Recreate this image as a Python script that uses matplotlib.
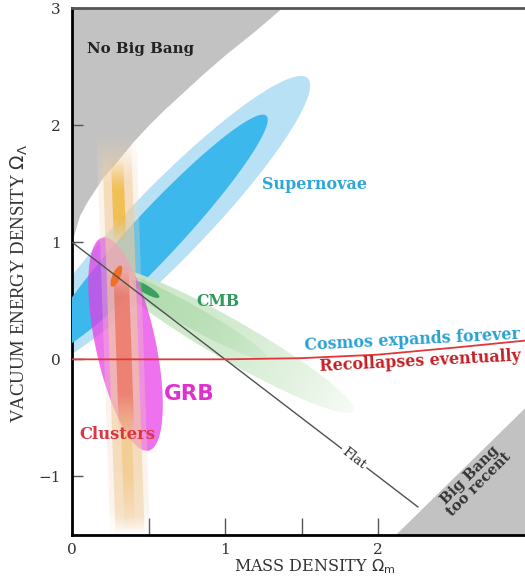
import numpy as np
import matplotlib
matplotlib.use("Agg")
import matplotlib.pyplot as plt
from matplotlib.patches import Polygon
from matplotlib.colors import to_rgb

# ---- values (Omega_m, Omega_Lambda) ----
no_bang_m = [0.0, 0.02, 0.05, 0.1, 0.2, 0.3, 0.4, 0.5, 0.6, 0.7, 0.85, 1.0, 1.2, 1.37]
no_bang_l = [1.0, 1.10, 1.23, 1.35, 1.55, 1.70, 1.86, 2.0, 2.13, 2.25, 2.43, 2.6, 2.81, 3.0]

too_recent_m = [2.11, 2.96]
too_recent_l = [-1.5, -0.41]

recollapse_m = [0.0, 1.0, 1.5, 2.0, 2.5, 2.96]
recollapse_l = [0.0, 0.0, 0.01, 0.04, 0.10, 0.16]

flat_m = [0.0, 2.26]
flat_l = [1.0, -1.26]

# confidence regions: centre, tip of long axis, half width (px)
sn_outer = dict(c=(0.62, 1.16), tip=(1.54, 2.40), hw=37)
sn_inner = dict(c=(0.55, 1.07), tip=(1.27, 2.08), hw=24)
cmb_outer = dict(c=(1.04, 0.16), tip=(1.84, -0.44), hw=20)
cmb_mid = dict(c=(0.76, 0.38), tip=(1.28, 0.0), hw=11)
cmb_core = dict(c=(0.48, 0.60), tip=(0.57, 0.53), hw=4)
grb = dict(c=(0.35, 0.13), tip=(0.20, 1.04), hw=30)
combined = dict(c=(0.29, 0.71), tip=(0.32, 0.80), hw=4)

# opacity of the CMB band along its long axis (-1 = upper-left tip)
cmb_s = [-1.0, 0.0, 0.6, 1.0]
cmb_a = [0.95, 0.8, 0.45, 0.15]

# cluster band: centre line, and opacity along Omega_Lambda
clusters_top = (0.29, 1.90)
clusters_bot = (0.38, -1.5)
cl_halo_y = [-1.5, -1.3, 1.6, 1.95]
cl_halo_a = [0.0, 0.3, 0.3, 0.0]
cl_pale_y = [-1.5, -1.35, -0.9, 1.5, 1.88]
cl_pale_a = [0.0, 0.45, 0.6, 0.6, 0.0]
cl_core_y = [1.0, 1.2, 1.45, 1.7]
cl_core_a = [0.0, 0.7, 0.7, 0.0]
cl_red_y = [-0.6, -0.3, 0.55, 0.8]
cl_red_a = [0.0, 0.5, 0.5, 0.0]
cl_low_y = [-1.45, -1.0, -0.5, -0.3]
cl_low_a = [0.0, 0.35, 0.35, 0.0]

XMAX = 2.96
YMIN, YMAX = -1.5, 3.0

fig = plt.figure(figsize=(5.25, 5.76), dpi=100)
ax = fig.add_axes([72 / 525, 1 - 535 / 576, 1 - 72 / 525, 527 / 576])

sx = 453 / XMAX           # px per unit of Omega_m
sy = 527 / (YMAX - YMIN)  # px per unit of Omega_Lambda


def ellipse_axes(e):
    c = np.array(e["c"])
    a = np.array(e["tip"]) - c
    apx = np.array([a[0] * sx, a[1] * sy])
    perp = np.array([-apx[1], apx[0]]) / np.hypot(*apx) * e["hw"]
    b = np.array([perp[0] / sx, perp[1] / sy])
    return c, a, b


def ellipse(ax, e, **kw):
    c, a, b = ellipse_axes(e)
    t = np.linspace(0, 2 * np.pi, 200)
    pts = c + np.outer(np.cos(t), a) + np.outer(np.sin(t), b)
    ax.add_patch(Polygon(pts, closed=True, lw=0, **kw))


def ellipse_fade(ax, e, color, s_stops, a_stops, z):
    c, a, b = ellipse_axes(e)
    t = np.linspace(0, 2 * np.pi, 200)
    pts = c + np.outer(np.cos(t), a) + np.outer(np.sin(t), b)
    poly = Polygon(pts, transform=ax.transData)
    x0, y0 = pts.min(axis=0)
    x1, y1 = pts.max(axis=0)
    gx, gy = np.meshgrid(np.linspace(x0, x1, 300), np.linspace(y1, y0, 300))
    # coordinate along the long axis, solved from the conjugate basis
    m = np.array([a, b]).T
    inv = np.linalg.inv(m)
    s = inv[0, 0] * (gx - c[0]) + inv[0, 1] * (gy - c[1])
    img = np.zeros((300, 300, 4))
    img[..., :3] = to_rgb(color)
    img[..., 3] = np.interp(s, s_stops, a_stops)
    im = ax.imshow(img, extent=[x0, x1, y0, y1], aspect="auto", origin="upper",
                   interpolation="bilinear", zorder=z)
    im.set_clip_path(poly)


def cluster_band(ax, stops_y, stops_a, hw, color, z):
    (xt, yt), (xb, yb) = clusters_top, clusters_bot
    y0, y1 = stops_y[0], stops_y[-1]
    xc = lambda y: xt + (y - yt) * (xb - xt) / (yb - yt)
    poly = Polygon([(xc(y1) - hw, y1), (xc(y1) + hw, y1),
                    (xc(y0) + hw, y0), (xc(y0) - hw, y0)],
                   transform=ax.transData)
    ys = np.linspace(y1, y0, 300)
    img = np.zeros((300, 1, 4))
    img[:, 0, :3] = to_rgb(color)
    img[:, 0, 3] = np.interp(ys, stops_y, stops_a)
    x0 = min(xc(y0), xc(y1)) - hw
    x1 = max(xc(y0), xc(y1)) + hw
    im = ax.imshow(img, extent=[x0, x1, y0, y1], aspect="auto",
                   origin="upper", interpolation="bilinear", zorder=z)
    im.set_clip_path(poly)


# gray excluded regions
ax.fill_between(no_bang_m, no_bang_l, YMAX, color="#c2c2c2", lw=0, zorder=1)
ax.fill_between(too_recent_m, YMIN, too_recent_l, color="#c2c2c2", lw=0, zorder=1)

# supernovae
ellipse(ax, sn_outer, color="#b8e1f5", zorder=2)
ellipse(ax, sn_inner, color="#3db8ec", zorder=3)

# CMB
ellipse_fade(ax, cmb_outer, "#c8e6c4", cmb_s, cmb_a, 3)
ellipse_fade(ax, cmb_mid, "#a8d8a6", [-1, 0, 1], [0.8, 0.6, 0.2], 3)
ellipse(ax, cmb_core, color="#3aa060", zorder=3)

# GRB
ellipse(ax, grb, color="#e83ae6", alpha=0.72, zorder=4)

# clusters
cluster_band(ax, cl_halo_y, cl_halo_a, 0.13, "#f4dcc0", 5)
cluster_band(ax, cl_pale_y, cl_pale_a, 0.095, "#f2cc9c", 5)
cluster_band(ax, cl_core_y, cl_core_a, 0.04, "#f0b428", 5)
cluster_band(ax, cl_red_y, cl_red_a, 0.05, "#ea5232", 5)
cluster_band(ax, cl_low_y, cl_low_a, 0.035, "#f0b450", 5)

ellipse(ax, combined, color="#f07028", zorder=6)

# flat universe line and recollapse boundary
ax.plot(flat_m, flat_l, color="#505050", lw=1.0, zorder=6)
ax.plot(recollapse_m, recollapse_l, color="#e0383a", lw=1.3, zorder=7)

ax.set_xlim(0, XMAX)
ax.set_ylim(YMIN, YMAX)

serif = "DejaVu Serif"
ax.text(0.10, 2.65, "No Big Bang", family=serif, weight="bold", fontsize=10.8,
        color="#222222", va="center", zorder=8)
ax.text(1.24, 1.49, "Supernovae", family=serif, weight="bold", fontsize=11.5,
        color="#2ea6da", va="center", zorder=8)
ax.text(0.81, 0.49, "CMB", family=serif, weight="bold", fontsize=11.3,
        color="#2f9a5e", va="center", zorder=8)
ax.text(1.52, 0.12, "Cosmos expands forever", family=serif, weight="bold",
        fontsize=11.4, color="#2aa0d4", va="center", ha="left", rotation=3,
        rotation_mode="anchor", zorder=8)
ax.text(1.62, -0.06, "Recollapses eventually", family=serif, weight="bold",
        fontsize=11.4, color="#c42026", va="center", ha="left", rotation=3,
        rotation_mode="anchor", zorder=8)
ax.text(0.60, -0.30, "GRB", family="DejaVu Sans", weight="bold", fontsize=15.5,
        color="#e030d0", va="center", zorder=8)
ax.text(0.05, -0.64, "Clusters", family=serif, weight="bold", fontsize=11.8,
        color="#dc3545", va="center", zorder=8)
ax.text(1.84, -0.85, "Flat", family=serif, fontsize=9.5, color="#333333",
        rotation=-38, ha="center", va="center", zorder=8,
        bbox=dict(facecolor="white", edgecolor="none", pad=1.5))
ax.text(2.63, -1.03, "Big Bang\ntoo recent", family=serif, weight="bold",
        fontsize=10.5, color="#333333", rotation=45, ha="center", va="center",
        linespacing=0.95, zorder=8)

# axes styling
ax.set_xticks([0, 1, 2])
ax.set_xticks([0.5, 1.5], minor=True)
ax.set_yticks([-1, 0, 1, 2, 3])
ax.tick_params(axis="x", which="both", direction="in", length=12, width=1,
               color="#555555", pad=6, labelsize=11, labelcolor="#333333")
ax.tick_params(axis="y", direction="in", length=8, width=1, color="#555555",
               pad=8, labelsize=11, labelcolor="#333333")
for lab in ax.get_xticklabels() + ax.get_yticklabels():
    lab.set_family(serif)
ax.spines["right"].set_visible(False)
ax.spines["left"].set_linewidth(2)
ax.spines["bottom"].set_linewidth(2)
ax.spines["top"].set_linewidth(2)
ax.spines["top"].set_color("#555555")

fig.text(315 / 525, 1 - 567 / 576, r"MASS DENSITY $\Omega_{\rm m}$",
         family=serif, fontsize=11.5, color="#333333", ha="center", va="center")
fig.text(19 / 525, 1 - 283 / 576, r"VACUUM ENERGY DENSITY $\Omega_\Lambda$",
         family="Liberation Serif", fontsize=13.5, color="#333333",
         rotation=90, ha="center", va="center")

fig.savefig("out.png", dpi=100, facecolor="white")
